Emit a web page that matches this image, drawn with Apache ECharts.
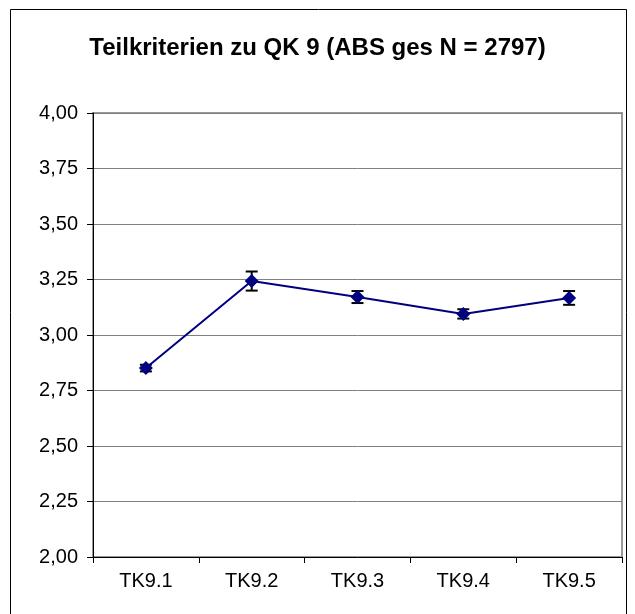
<!DOCTYPE html>
<html>
<head>
<meta charset="utf-8">
<script src="https://cdn.jsdelivr.net/npm/echarts@6/dist/echarts.min.js"></script>
<style>html,body{margin:0;padding:0;background:#fff;}#c{width:635px;height:614px;}</style>
</head>
<body>
<div id="c"></div>
<script>
var categories = ['TK9.1', 'TK9.2', 'TK9.3', 'TK9.4', 'TK9.5'];
var means = [2.851, 3.243, 3.171, 3.095, 3.167];
var errors = [0.015, 0.043, 0.027, 0.021, 0.031];
var yTicks = [2.00, 2.25, 2.50, 2.75, 3.00, 3.25, 3.50, 3.75, 4.00];

var chart = echarts.init(document.getElementById('c'), null, {renderer: 'canvas'});
var errData = means.map(function (m, i) { return [i, m - errors[i], m + errors[i]]; });

chart.setOption({
  backgroundColor: '#fff',
  animation: false,
  title: {
    text: 'Teilkriterien zu QK 9 (ABS ges N = 2797)',
    left: 'center', top: 31,
    textStyle: {fontFamily: 'Liberation Sans', fontWeight: 'bold', fontSize: 24, color: '#000'}
  },
  graphic: [{
    type: 'rect', shape: {x: 10.5, y: 9.5, width: 616, height: 620},
    style: {fill: 'none', stroke: '#000', lineWidth: 1}, silent: true, z: -1
  }],
  grid: {left: 93, right: 13, top: 113, bottom: 57, show: true, borderColor: '#999', borderWidth: 2, backgroundColor: 'transparent'},
  xAxis: {
    type: 'category', data: categories, boundaryGap: true,
    axisLine: {show: true, lineStyle: {color: '#000', width: 1}},
    axisTick: {show: true, length: 6, alignWithLabel: false, lineStyle: {color: '#000'}},
    axisLabel: {fontFamily: 'Liberation Sans', fontSize: 20, color: '#000', margin: 14},
    splitLine: {show: false}
  },
  yAxis: {
    type: 'value', min: 2, max: 4, interval: 0.25,
    axisLine: {show: true, lineStyle: {color: '#000', width: 1}},
    axisTick: {show: true, length: 6, lineStyle: {color: '#000'}},
    axisLabel: {fontFamily: 'Liberation Sans', fontSize: 20, color: '#000', margin: 15,
      formatter: function (v) { return v.toFixed(2).replace('.', ','); }},
    splitLine: {show: true, lineStyle: {color: '#808080', width: 1}}
  },
  series: [{
    type: 'line', data: means,
    lineStyle: {color: '#000080', width: 2},
    itemStyle: {color: '#000080'},
    symbol: 'diamond', symbolSize: 14,
    z: 3
  }, {
    type: 'custom', data: errData, z: 2,
    renderItem: function (params, api) {
      var x = api.value(0);
      var lo = api.coord([x, api.value(1)]);
      var hi = api.coord([x, api.value(2)]);
      var w = 6;
      var st = {stroke: '#000', lineWidth: 2};
      return {type: 'group', children: [
        {type: 'line', shape: {x1: lo[0], y1: lo[1], x2: hi[0], y2: hi[1]}, style: st},
        {type: 'line', shape: {x1: lo[0] - w, y1: lo[1], x2: lo[0] + w, y2: lo[1]}, style: st},
        {type: 'line', shape: {x1: hi[0] - w, y1: hi[1], x2: hi[0] + w, y2: hi[1]}, style: st}
      ]};
    }
  }]
});
</script>
</body>
</html>
